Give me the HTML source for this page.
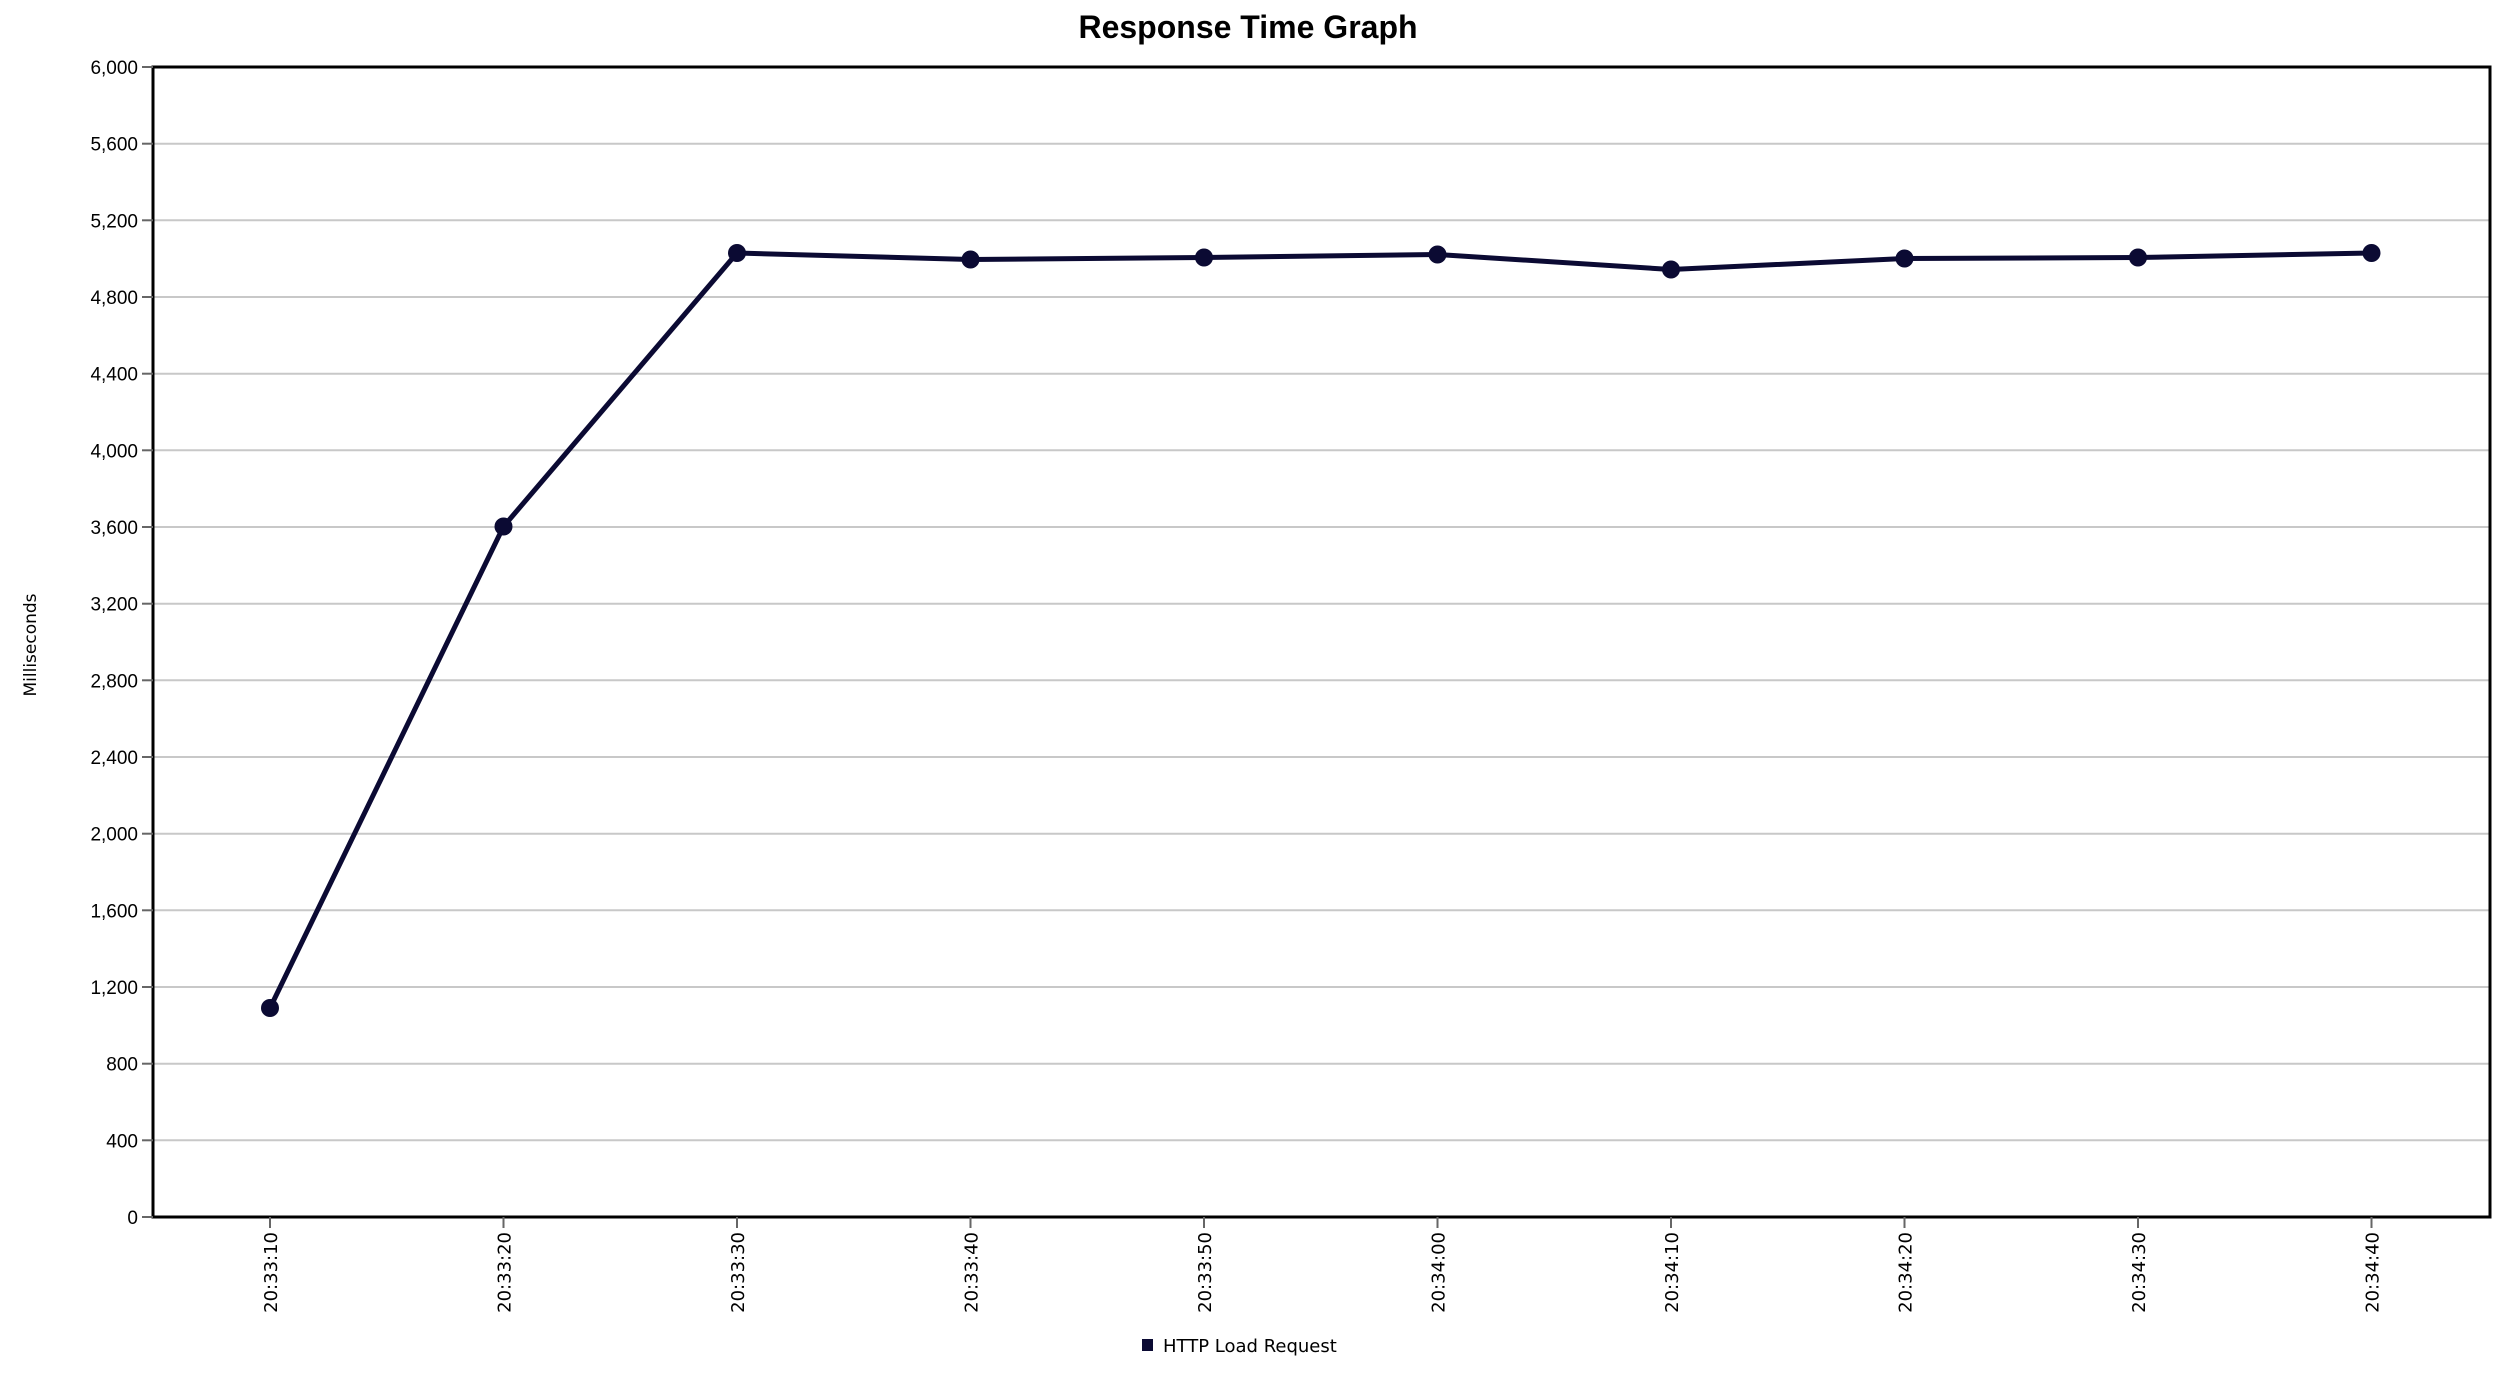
<!DOCTYPE html>
<html><head><meta charset="utf-8"><style>
html,body{margin:0;padding:0;background:#fff;}
svg{display:block;}
text{font-family:"Liberation Sans",sans-serif;fill:#000;}
</style></head><body>
<svg width="2494" height="1376" viewBox="0 0 2494 1376" xmlns="http://www.w3.org/2000/svg">
<rect width="2494" height="1376" fill="#fff"/>
<text x="1248" y="38" font-size="32" font-weight="bold" text-anchor="middle">Response Time Graph</text>
<g id="grid" stroke="#c8c8c8" stroke-width="2">
<line x1="153" x2="2490" y1="143.7" y2="143.7"/>
<line x1="153" x2="2490" y1="220.3" y2="220.3"/>
<line x1="153" x2="2490" y1="297" y2="297"/>
<line x1="153" x2="2490" y1="373.7" y2="373.7"/>
<line x1="153" x2="2490" y1="450.3" y2="450.3"/>
<line x1="153" x2="2490" y1="527" y2="527"/>
<line x1="153" x2="2490" y1="603.7" y2="603.7"/>
<line x1="153" x2="2490" y1="680.3" y2="680.3"/>
<line x1="153" x2="2490" y1="757" y2="757"/>
<line x1="153" x2="2490" y1="833.7" y2="833.7"/>
<line x1="153" x2="2490" y1="910.3" y2="910.3"/>
<line x1="153" x2="2490" y1="987" y2="987"/>
<line x1="153" x2="2490" y1="1063.7" y2="1063.7"/>
<line x1="153" x2="2490" y1="1140.3" y2="1140.3"/>
</g>
<rect x="153" y="67" width="2337" height="1150" fill="none" stroke="#000" stroke-width="3"/>
<g font-size="19" text-anchor="end" font-family="Liberation Sans Narrow, Liberation Sans, sans-serif">
<text x="138" y="74">6,000</text>
<text x="138" y="150.7">5,600</text>
<text x="138" y="227.3">5,200</text>
<text x="138" y="304">4,800</text>
<text x="138" y="380.7">4,400</text>
<text x="138" y="457.3">4,000</text>
<text x="138" y="534">3,600</text>
<text x="138" y="610.7">3,200</text>
<text x="138" y="687.3">2,800</text>
<text x="138" y="764">2,400</text>
<text x="138" y="840.7">2,000</text>
<text x="138" y="917.3">1,600</text>
<text x="138" y="994">1,200</text>
<text x="138" y="1070.7">800</text>
<text x="138" y="1147.3">400</text>
<text x="138" y="1224">0</text>
</g>
<g stroke="#666" stroke-width="2">
<line x1="142" x2="153" y1="67" y2="67"/><line x1="142" x2="153" y1="143.7" y2="143.7"/><line x1="142" x2="153" y1="220.3" y2="220.3"/><line x1="142" x2="153" y1="297" y2="297"/><line x1="142" x2="153" y1="373.7" y2="373.7"/><line x1="142" x2="153" y1="450.3" y2="450.3"/><line x1="142" x2="153" y1="527" y2="527"/><line x1="142" x2="153" y1="603.7" y2="603.7"/><line x1="142" x2="153" y1="680.3" y2="680.3"/><line x1="142" x2="153" y1="757" y2="757"/><line x1="142" x2="153" y1="833.7" y2="833.7"/><line x1="142" x2="153" y1="910.3" y2="910.3"/><line x1="142" x2="153" y1="987" y2="987"/><line x1="142" x2="153" y1="1063.7" y2="1063.7"/><line x1="142" x2="153" y1="1140.3" y2="1140.3"/><line x1="142" x2="153" y1="1217" y2="1217"/>
<line x1="270" x2="270" y1="1217" y2="1228"/><line x1="503.5" x2="503.5" y1="1217" y2="1228"/><line x1="737" x2="737" y1="1217" y2="1228"/><line x1="970.5" x2="970.5" y1="1217" y2="1228"/><line x1="1204" x2="1204" y1="1217" y2="1228"/><line x1="1437.5" x2="1437.5" y1="1217" y2="1228"/><line x1="1671" x2="1671" y1="1217" y2="1228"/><line x1="1904.5" x2="1904.5" y1="1217" y2="1228"/><line x1="2138" x2="2138" y1="1217" y2="1228"/><line x1="2371.5" x2="2371.5" y1="1217" y2="1228"/>
</g>
<g font-size="18" text-anchor="end" font-family="DejaVu Sans, sans-serif">
<text transform="translate(277,1232) rotate(-90)" style="font-family:'DejaVu Sans',sans-serif">20:33:10</text>
<text transform="translate(510.5,1232) rotate(-90)" style="font-family:'DejaVu Sans',sans-serif">20:33:20</text>
<text transform="translate(744,1232) rotate(-90)" style="font-family:'DejaVu Sans',sans-serif">20:33:30</text>
<text transform="translate(977.5,1232) rotate(-90)" style="font-family:'DejaVu Sans',sans-serif">20:33:40</text>
<text transform="translate(1211,1232) rotate(-90)" style="font-family:'DejaVu Sans',sans-serif">20:33:50</text>
<text transform="translate(1444.5,1232) rotate(-90)" style="font-family:'DejaVu Sans',sans-serif">20:34:00</text>
<text transform="translate(1678,1232) rotate(-90)" style="font-family:'DejaVu Sans',sans-serif">20:34:10</text>
<text transform="translate(1911.5,1232) rotate(-90)" style="font-family:'DejaVu Sans',sans-serif">20:34:20</text>
<text transform="translate(2145,1232) rotate(-90)" style="font-family:'DejaVu Sans',sans-serif">20:34:30</text>
<text transform="translate(2378.5,1232) rotate(-90)" style="font-family:'DejaVu Sans',sans-serif">20:34:40</text>
</g>
<text transform="translate(36,645) rotate(-90)" font-size="17" text-anchor="middle" style="font-family:'DejaVu Sans',sans-serif">Milliseconds</text>
<polyline fill="none" stroke="#0b0a33" stroke-width="5" stroke-linejoin="round" points="270,1008 503.5,526.5 737,253 970.5,259.5 1204,257.5 1437.5,254.5 1671,269.5 1904.5,258.5 2138,257.5 2371.5,253"/>
<g fill="#0b0a33">
<circle cx="270" cy="1008" r="9"/><circle cx="503.5" cy="526.5" r="9"/><circle cx="737" cy="253" r="9"/><circle cx="970.5" cy="259.5" r="9"/><circle cx="1204" cy="257.5" r="9"/><circle cx="1437.5" cy="254.5" r="9"/><circle cx="1671" cy="269.5" r="9"/><circle cx="1904.5" cy="258.5" r="9"/><circle cx="2138" cy="257.5" r="9"/><circle cx="2371.5" cy="253" r="9"/>
<rect x="1142" y="1339" width="11" height="12"/>
</g>
<text x="1163" y="1352" font-size="18" style="font-family:'DejaVu Sans',sans-serif">HTTP Load Request</text>
</svg>
</body></html>
